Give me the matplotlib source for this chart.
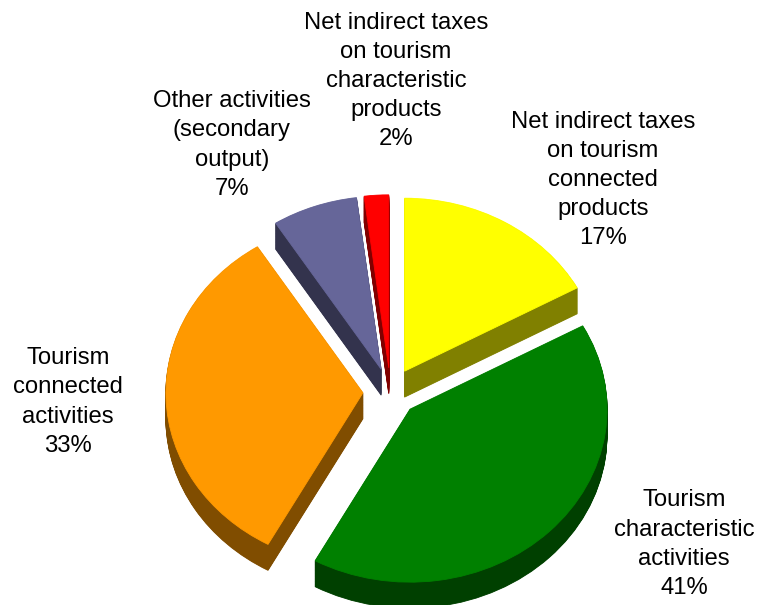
import numpy as np
import matplotlib
matplotlib.use("Agg")
import matplotlib.pyplot as plt

# shares of tourism value added, clockwise from 12 o'clock
names = [
    "Net indirect taxes\non tourism\nconnected\nproducts",
    "Tourism\ncharacteristic\nactivities",
    "Tourism\nconnected\nactivities",
    "Other activities\n(secondary\noutput)",
    "Net indirect taxes\non tourism\ncharacteristic\nproducts",
]
shares = [17, 41, 33, 7, 2]

top_colors = ["#FFFF00", "#008000", "#FF9900", "#666699", "#FF0000"]
side_colors = ["#808000", "#004000", "#804D00", "#33334D", "#800000"]
# back-to-front drawing order
draw_rank = [2, 4, 3, 1, 0]
# label anchor points in data coords
label_xy = [(1.079, 1.225), (1.490, -0.879), (-1.637, -0.058),
            (-0.805, 1.428), (0.028, 1.798)]

explode = [0.14] * len(shares)
depth = 0.15
n_layers = 36

plt.rcParams["font.family"] = ["Liberation Sans", "DejaVu Sans"]

fig = plt.figure(figsize=(7.57, 6.05), dpi=100)
ax = fig.add_axes([0, 0, 1, 1])

# extruded side: stack darker copies of the pie downwards
for k, z in enumerate(np.linspace(depth, 0, n_layers)):
    last = k == n_layers - 1
    cols = top_colors if last else side_colors
    wedges, _ = ax.pie(shares, explode=explode, startangle=90, counterclock=False,
                       center=(0, -z), colors=cols,
                       wedgeprops=dict(linewidth=0.6, edgecolor=None))
    for i, w in enumerate(wedges):
        w.set_edgecolor(cols[i])
        w.set_zorder(1 + draw_rank[i] + k * 0.001 + (0.1 if last else 0))

for name, val, (x, y) in zip(names, shares, label_xy):
    ax.text(x, y, f"{name}\n{val}%", ha="center", va="center",
            fontsize=17.2, linespacing=1.42, color="black", zorder=20)

ax.set_aspect("auto")
ax.set_xlim(-1.982, 1.860)
ax.set_ylim(-1.231, 2.266)
ax.axis("off")

fig.savefig("out.png", dpi=100, facecolor="white")
